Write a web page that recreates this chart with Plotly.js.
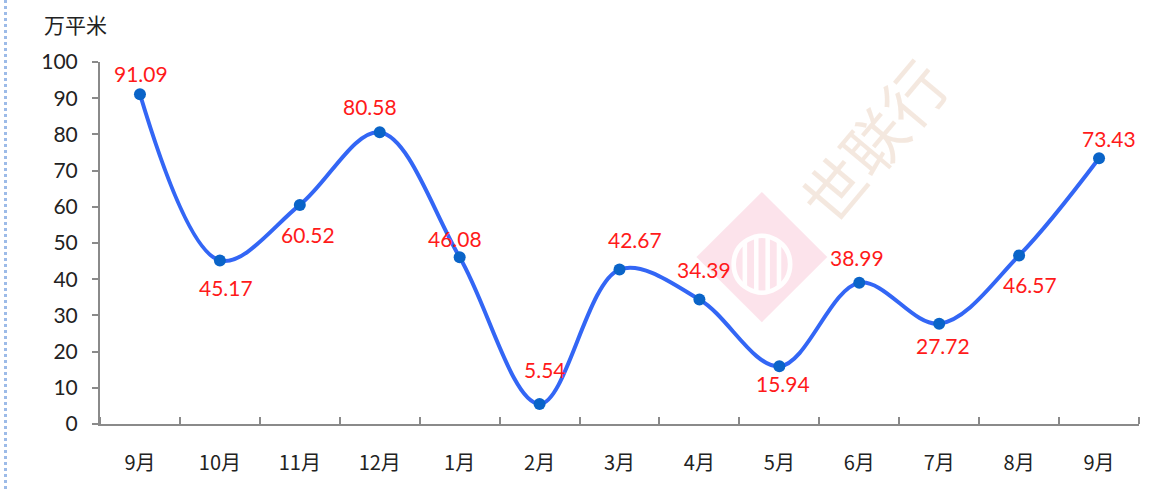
<!DOCTYPE html>
<html><head><meta charset="utf-8">
<script src="https://cdn.plot.ly/plotly-3.0.1.min.js"></script>
<style>
html,body{margin:0;padding:0;background:#fff;}
#wrap{position:relative;width:1168px;height:489px;}
#chart{width:1168px;height:489px;}
#border{position:absolute;left:4px;top:0;width:0;height:489px;border-left:3px dotted #9dbbe8;}
</style></head>
<body><div id="wrap"><div id="chart"></div><div id="border"></div></div>
<script>
const months = ["9月","10月","11月","12月","1月","2月","3月","4月","5月","6月","7月","8月","9月"];
const values = [91.09,45.17,60.52,80.58,46.08,5.54,42.67,34.39,15.94,38.99,27.72,46.57,73.43];
const yTicks = [0,10,20,30,40,50,60,70,80,90,100];
const unit = "万平米";
// label offsets in pixels (style only)
const labelDx = [1,6,8,-10,-5,5,15,5,4,-2,4,11,10];
const labelDy = [21,-27,-30,26,19,34,30,30,-17,25,-22,-29,20];

const idx = months.map((m,i)=>i);
const fontNum = "Lato, 'Noto Sans CJK SC', sans-serif";
const fontCJK = "'Noto Sans CJK SC', Lato, sans-serif";

const trace = {
  x: idx, y: values, type: "scatter", mode: "lines+markers",
  line: {shape: "spline", smoothing: 1, color: "#3366f5", width: 4},
  marker: {size: 12, color: "#0a64c8"},
  cliponaxis: false, hoverinfo: "none"
};

const labelAnns = values.map((v,i)=>({
  x: i, y: v, xref: "x", yref: "y", text: v.toFixed(2), showarrow: false,
  xanchor: "center", yanchor: "middle", xshift: labelDx[i], yshift: labelDy[i],
  font: {family: fontNum, size: 21, color: "#ff1a1a"}
}));

const layout = {
  width: 1168, height: 489,
  margin: {l: 100, r: 29, t: 62, b: 65},
  paper_bgcolor: "#fff", plot_bgcolor: "#fff",
  showlegend: false,
  font: {family: fontNum, color: "#222", size: 20},
  xaxis: {
    range: [-0.5, 12.5], tickvals: idx, ticktext: months, ticks: "",
    showgrid: false, zeroline: false, showline: true, linecolor: "#8a8a8a", linewidth: 2,
    ticklabelstandoff: 20, tickfont: {family: fontCJK, size: 20, color: "#222"},
    minor: {tick0: -0.5, dtick: 1, ticks: "inside", ticklen: 7, tickcolor: "#8a8a8a", tickwidth: 2, showgrid: false}
  },
  yaxis: {
    range: [0, 100], tickvals: yTicks, ticks: "outside", ticklen: 6, tickcolor: "#8a8a8a", tickwidth: 2,
    showgrid: false, zeroline: false, showline: true, linecolor: "#8a8a8a", linewidth: 2,
    ticklabelstandoff: 10, tickfont: {size: 21, color: "#222"}
  },
  shapes: [{
    type: "path", xref: "paper", yref: "paper", layer: "below",
    path: "M 0.574 0.461 L 0.637 0.641 L 0.700 0.461 L 0.637 0.281 Z",
    fillcolor: "rgba(252,222,231,0.85)", line: {width: 0}
  }],
  annotations: [
    {text: unit, xref: "paper", yref: "paper", x: -0.0555, y: 1.0, yshift: 55, xanchor: "left", yanchor: "top",
     showarrow: false, font: {family: fontCJK, size: 21, color: "#222"}},
    {text: "世联行", xref: "paper", yref: "paper", x: 0.743, y: 0.785, xanchor: "center", yanchor: "middle",
     showarrow: false, textangle: -50,
     font: {family: fontCJK, size: 62, color: "rgba(240,222,210,0.7)"}},
    {text: "◍", xref: "paper", yref: "paper", x: 0.637, y: 0.461, xanchor: "center", yanchor: "middle", showarrow: false,
     font: {family: "DejaVu Sans", size: 80, color: "rgba(255,255,255,0.95)"}}
  ].concat(labelAnns)
};
Plotly.newPlot("chart", [trace], layout, {staticPlot: true, displayModeBar: false});
</script></body></html>
